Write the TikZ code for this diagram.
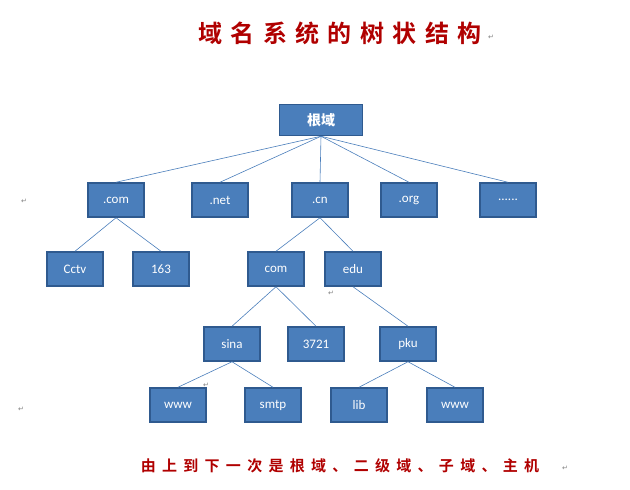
\documentclass[tikz,border=0pt]{standalone}
\usepackage{fontspec}
\setmainfont{Carlito}
\newfontfamily\cjk{Noto Sans CJK SC}
\newfontfamily\cjktitle[LetterSpace=35.0]{Noto Sans CJK SC Bold}
\newfontfamily\cjkfoot[LetterSpace=42.0]{Noto Sans CJK SC Bold}
\newfontfamily\sym{DejaVu Sans}
\definecolor{boxfill}{HTML}{4A7EBB}
\definecolor{boxline}{HTML}{2F5A8F}
\definecolor{edge}{HTML}{4A7EBB}
\definecolor{title}{HTML}{B00000}
\begin{document}
\begin{tikzpicture}[x=1pt,y=-1pt,
  box/.style={draw=boxline,line width=1.5pt,fill=boxfill,text=white,minimum width=56pt,minimum height=34pt,inner sep=0pt,font=\fontsize{13}{15}\selectfont},
  e/.style={draw=edge,line width=0.6pt},
  retmark/.style={text=gray,font=\sym\fontsize{7}{8}\selectfont,inner sep=0pt}]
\useasboundingbox (0,0) rectangle (630,490);
\node (title) [text=title,font=\cjktitle\fontsize{24}{28}\selectfont,inner sep=0pt] at (340,33) {域名系统的树状结构};
\node (root) [box,minimum width=83pt,minimum height=31pt,font=\cjk\bfseries\fontsize{14}{16}\selectfont] at (321,120) {根域};
\node (com) [box] at (116,200) {.com};
\node (net) [box] at (220,200) {.net};
\node (cn) [box] at (320,200) {.cn};
\node (org) [box] at (409,200) {.org};
\node (dots) [box] at (508,200) {......};
\node (cctv) [box] at (75,269) {Cctv};
\node (n163) [box] at (161,269) {163};
\node (com2) [box] at (276,269) {com};
\node (edu) [box] at (353,269) {edu};
\node (sina) [box] at (232,344) {sina};
\node (n3721) [box] at (316,344) {3721};
\node (pku) [box] at (408,344) {pku};
\node (www1) [box] at (178,405) {www};
\node (smtp) [box] at (273,405) {smtp};
\node (lib) [box] at (359,405) {lib};
\node (www2) [box] at (455,405) {www};
\foreach \c in {com,net,cn,org,dots} \draw[e] (root.south) -- (\c.north);
\draw[e] (com.south) -- (cctv.north);
\draw[e] (com.south) -- (n163.north);
\draw[e] (cn.south) -- (com2.north);
\draw[e] (cn.south) -- (edu.north);
\draw[e] (com2.south) -- (sina.north);
\draw[e] (com2.south) -- (n3721.north);
\draw[e] (edu.south) -- (pku.north);
\draw[e] (sina.south) -- (www1.north);
\draw[e] (sina.south) -- (smtp.north);
\draw[e] (pku.south) -- (lib.north);
\draw[e] (pku.south) -- (www2.north);
\node (foot) [text=title,font=\cjkfoot\fontsize{15}{18}\selectfont,inner sep=0pt] at (340,466) {由上到下一次是根域、二级域、子域、主机};
\node (m1) [retmark] at (491,37) {↵};
\node (m2) [retmark] at (24,201) {↵};
\node (m3) [retmark] at (21,409) {↵};
\node (m4) [retmark] at (331,293) {↵};
\node (m5) [retmark] at (206,385) {↵};
\node (m6) [retmark] at (565,468) {↵};
\end{tikzpicture}
\end{document}
